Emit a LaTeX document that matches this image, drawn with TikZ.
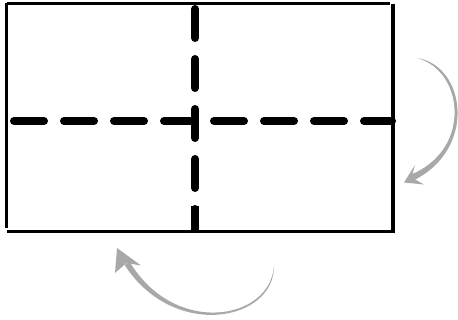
\documentclass[tikz,border=0pt]{standalone}
\definecolor{arrowgray}{RGB}{168,168,168}
\tikzset{
  frameline/.style={line width=3.5pt, black},
  foldline/.style={line width=8pt, black, line cap=round},
  arrowbody/.style={fill=arrowgray, draw=none},
}
\begin{document}
\begin{tikzpicture}[x=1pt,y=-1pt]
\useasboundingbox (0,0) rectangle (458,320);
\fill[white] (0,0) rectangle (458,320);
% frame
\draw[frameline] (6.5,3) -- (6.5,228);
\draw[frameline] (7,3.5) -- (390,3.5);
\draw[frameline] (393,4) -- (393,230);
\draw[frameline] (7,231.5) -- (395,231.5);
% fold lines
\draw[foldline, dash pattern=on 30pt off 20pt] (14,121) -- (392,121);
\draw[foldline, dash pattern=on 29pt off 21pt] (195,9) -- (195,228);
\draw[line width=8pt, black] (195,206) -- (195,230);
% right arrow (tapered shaft + head)
\fill[arrowbody] (417,58) .. controls (465.8,65.5) and (477.8,149.5) .. (412.4,181)
  -- (409.8,175) .. controls (472.5,150.5) and (464.2,70.5) .. (417,58) -- cycle;
\fill[arrowbody] (404,182.5) -- (415,165) -- (411.5,177.5) -- (424,184.5) -- cycle;
% bottom arrow (tapered shaft + head)
\fill[arrowbody] (274,266) .. controls (274.5,321) and (174,341) .. (124.6,265)
  -- (129.4,261.4) .. controls (174,336.5) and (270,321) .. (274,266) -- cycle;
\fill[arrowbody] (117,248) -- (115,273) -- (126.5,263) -- (141,265.5) -- cycle;
\end{tikzpicture}
\end{document}
